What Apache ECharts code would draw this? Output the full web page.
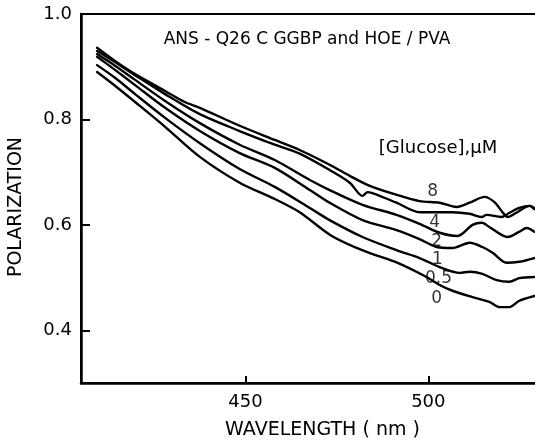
<!DOCTYPE html>
<html>
<head>
<meta charset="utf-8">
<script src="https://cdn.jsdelivr.net/npm/echarts@6/dist/echarts.min.js"></script>
<style>
html,body{margin:0;padding:0;background:#fff;}
#chart{width:535px;height:441px;}
</style>
</head>
<body>
<div id="chart"></div>
<script>
// Tick values
const wavelengthTicks = [450, 500];
const polarizationTicks = [0.4, 0.6, 0.8, 1.0];

// [Glucose] = 8 uM
const nm8 = [409.4, 414.3, 419.8, 428.0, 433.4, 437.5, 448.4, 458.0, 464.8, 473.0, 478.5, 484.0, 491.3, 497.6, 503.1, 507.7, 511.3, 515.4, 518.1, 520.3, 521.7, 524.1, 527.7, 529.0];
const pol8 = [0.936, 0.911, 0.886, 0.854, 0.833, 0.822, 0.788, 0.761, 0.742, 0.714, 0.693, 0.674, 0.657, 0.645, 0.642, 0.634, 0.642, 0.653, 0.643, 0.624, 0.615, 0.623, 0.636, 0.632];
// 4 uM
const nm4 = [409.4, 414.3, 419.8, 428.0, 437.5, 448.4, 458.0, 464.8, 473.0, 478.5, 482.0, 483.4, 485.3, 491.3, 497.6, 503.1, 506.6, 511.3, 514.6, 515.9, 520.0, 522.2, 524.9, 527.7, 529.0];
const pol4 = [0.930, 0.909, 0.884, 0.848, 0.810, 0.778, 0.752, 0.735, 0.704, 0.680, 0.655, 0.662, 0.659, 0.642, 0.624, 0.624, 0.624, 0.621, 0.615, 0.619, 0.615, 0.623, 0.632, 0.636, 0.630];
// 2 uM
const nm2 = [409.4, 414.3, 419.8, 428.0, 437.5, 448.4, 458.0, 467.6, 473.0, 482.0, 491.3, 497.6, 503.1, 508.0, 512.1, 514.6, 516.7, 521.7, 524.9, 526.9, 529.0];
const pol2 = [0.924, 0.902, 0.875, 0.835, 0.793, 0.752, 0.723, 0.685, 0.666, 0.638, 0.619, 0.602, 0.585, 0.579, 0.600, 0.604, 0.596, 0.577, 0.587, 0.594, 0.587];
// 1 uM
const nm1 = [409.4, 414.3, 419.8, 428.0, 437.5, 448.4, 458.0, 467.6, 473.0, 482.0, 491.3, 497.6, 502.3, 506.6, 511.3, 514.8, 517.6, 521.4, 524.9, 529.0];
const pol1 = [0.919, 0.894, 0.865, 0.822, 0.778, 0.736, 0.708, 0.666, 0.642, 0.609, 0.590, 0.573, 0.558, 0.556, 0.566, 0.558, 0.547, 0.528, 0.530, 0.537];
// 0.5 uM
const nm05 = [409.4, 414.3, 419.8, 428.0, 437.5, 448.4, 458.0, 467.6, 473.0, 482.0, 491.3, 497.6, 503.1, 508.6, 511.3, 514.8, 518.7, 522.2, 524.9, 529.0];
const pol05 = [0.903, 0.879, 0.848, 0.803, 0.755, 0.706, 0.672, 0.632, 0.609, 0.577, 0.552, 0.537, 0.520, 0.509, 0.511, 0.507, 0.495, 0.492, 0.499, 0.501];
// 0 uM
const nm0 = [409.4, 414.3, 419.8, 428.0, 437.5, 448.4, 458.0, 464.8, 473.6, 482.6, 491.6, 499.0, 503.1, 506.6, 512.1, 516.7, 519.5, 522.2, 524.9, 529.0];
const pol0 = [0.890, 0.864, 0.833, 0.786, 0.729, 0.680, 0.649, 0.624, 0.579, 0.550, 0.528, 0.503, 0.486, 0.475, 0.463, 0.454, 0.444, 0.444, 0.456, 0.465];

// Curve labels
const curveLabels = ['8', '4', '2', '1', '0.5', '0'];
const labelNm = [501.2, 501.7, 502.3, 502.5, 502.8, 502.3];
const labelPol = [0.664, 0.604, 0.569, 0.535, 0.499, 0.461];

const FONT = 'DejaVu Sans';
const zip = (xs, ys) => xs.map((x, i) => [x, ys[i]]);
const curves = [
  ['8', nm8, pol8], ['4', nm4, pol4], ['2', nm2, pol2],
  ['1', nm1, pol1], ['0.5', nm05, pol05], ['0', nm0, pol0]
];

const chart = echarts.init(document.getElementById('chart'), null, {renderer: 'canvas'});
const series = curves.map(([name, xs, ys]) => ({
  name: name,
  type: 'line',
  data: zip(xs, ys),
  showSymbol: false,
  smooth: 0.3,
  silent: true,
  lineStyle: {color: '#000', width: 2.4, join: 'round', cap: 'round'},
  z: 3
}));
series.push({
  name: 'labels',
  type: 'scatter',
  symbolSize: 1,
  itemStyle: {color: 'rgba(0,0,0,0)'},
  data: curveLabels.map((t, i) => ({name: t, value: [labelNm[i], labelPol[i]]})),
  label: {show: true, position: 'inside', formatter: p => p.name, color: '#000', fontSize: 17, fontFamily: FONT},
  z: 5
});

chart.setOption({
  animation: false,
  backgroundColor: '#fff',
  grid: {left: 81, top: 14, width: 457, height: 369, containLabel: false, outerBoundsMode: 'none',
         show: true, borderColor: '#000', borderWidth: 2, backgroundColor: 'transparent'},
  xAxis: {
    type: 'value', min: 405, max: 530,
    name: 'WAVELENGTH ( nm )', nameLocation: 'middle', nameGap: 38,
    nameTextStyle: {fontSize: 19, fontFamily: FONT, color: '#000', padding: [0, 0, 0, 26]},
    axisLine: {onZero: false, lineStyle: {color: '#000', width: 2.5}},
    axisTick: {inside: true, length: 7, customValues: wavelengthTicks, lineStyle: {color: '#000', width: 2}},
    axisLabel: {customValues: wavelengthTicks, fontSize: 18, fontFamily: FONT, color: '#000', margin: 10},
    splitLine: {show: false}
  },
  yAxis: {
    type: 'value', min: 0.3, max: 1.0,
    name: 'POLARIZATION', nameLocation: 'middle', nameGap: 55, nameRotate: 90,
    nameTextStyle: {fontSize: 19, fontFamily: FONT, color: '#000', padding: [0, 17, 0, 0]},
    axisLine: {onZero: false, lineStyle: {color: '#000', width: 2.5}},
    axisTick: {inside: true, length: 9, customValues: polarizationTicks, lineStyle: {color: '#000', width: 2}},
    axisLabel: {customValues: polarizationTicks, fontSize: 18, fontFamily: FONT, color: '#000', margin: 9,
                formatter: v => Number(v).toFixed(1)},
    splitLine: {show: false}
  },
  graphic: [
    {type: 'text', x: 307, y: 40, silent: true,
     style: {text: 'ANS - Q26 C GGBP and HOE / PVA', fontSize: 17, fontFamily: FONT, fill: '#000', align: 'center', verticalAlign: 'middle'}},
    {type: 'text', x: 438, y: 148, silent: true,
     style: {text: '[Glucose],\u03bcM', fontSize: 18, fontFamily: FONT, fill: '#000', align: 'center', verticalAlign: 'middle'}}
  ],
  series: series
});
</script>
</body>
</html>
